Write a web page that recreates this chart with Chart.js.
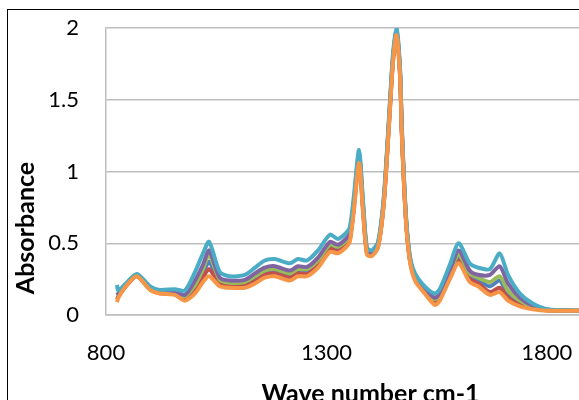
<!DOCTYPE html>
<html>
<head>
<meta charset="utf-8">
<script src="https://cdn.jsdelivr.net/npm/chart.js@4"></script>
<style>
html,body{margin:0;padding:0;background:#fff;overflow:hidden;width:579px;height:400px;}
#frame{position:absolute;left:7px;top:9px;width:900px;height:700px;border:1px solid #000;box-sizing:border-box;}
#wrap{position:absolute;left:0;top:0;width:660px;height:420px;}
</style>
</head>
<body>
<div id="frame"></div>
<div id="wrap"><canvas id="c" width="660" height="420"></canvas></div>
<script>
const waveNumbers = [825,828,845,870,900,922,956,979,1002,1020,1034,1058,1081,1115,1138,1160,1183,1217,1235,1256,1281,1308,1326,1344,1353,1362,1374,1383,1392,1403,1417,1430,1442,1451,1459,1467,1471,1480,1489,1501,1523,1546,1557,1580,1600,1625,1644,1671,1693,1712,1739,1768,1802,1863,1900];
const tealSeries   = [0.21,0.17,0.22,0.285,0.20,0.175,0.18,0.17,0.30,0.43,0.51,0.30,0.27,0.28,0.33,0.38,0.39,0.36,0.39,0.38,0.45,0.56,0.53,0.57,0.61,0.82,1.15,0.80,0.47,0.45,0.51,0.82,1.38,1.82,2.00,1.72,1.32,0.72,0.42,0.29,0.20,0.15,0.18,0.35,0.50,0.36,0.33,0.32,0.43,0.28,0.15,0.08,0.04,0.03,0.03];
const purpleSeries = [0.16,0.15,0.21,0.28,0.19,0.165,0.165,0.14,0.24,0.35,0.45,0.26,0.24,0.245,0.29,0.33,0.34,0.31,0.34,0.335,0.40,0.51,0.49,0.53,0.57,0.78,1.12,0.77,0.45,0.435,0.495,0.80,1.36,1.80,1.98,1.70,1.30,0.70,0.405,0.27,0.18,0.12,0.15,0.31,0.45,0.31,0.28,0.28,0.34,0.22,0.12,0.065,0.037,0.03,0.03];
const greenSeries  = [0.14,0.14,0.21,0.28,0.185,0.16,0.16,0.13,0.21,0.32,0.42,0.245,0.225,0.23,0.27,0.31,0.32,0.29,0.32,0.32,0.38,0.49,0.475,0.515,0.555,0.765,1.10,0.76,0.445,0.43,0.49,0.79,1.35,1.79,1.97,1.69,1.29,0.695,0.40,0.265,0.175,0.11,0.14,0.295,0.42,0.29,0.26,0.23,0.27,0.17,0.10,0.055,0.035,0.03,0.03];
const blueSeries   = [0.13,0.135,0.205,0.275,0.18,0.155,0.15,0.12,0.19,0.29,0.37,0.23,0.215,0.22,0.25,0.295,0.305,0.275,0.305,0.30,0.365,0.475,0.46,0.50,0.54,0.75,1.09,0.75,0.435,0.42,0.48,0.785,1.34,1.78,1.96,1.68,1.28,0.69,0.395,0.26,0.17,0.10,0.13,0.28,0.40,0.27,0.24,0.20,0.24,0.14,0.085,0.05,0.033,0.03,0.03];
const redSeries    = [0.11,0.13,0.20,0.27,0.178,0.152,0.145,0.11,0.17,0.26,0.32,0.215,0.20,0.205,0.235,0.28,0.29,0.26,0.29,0.285,0.35,0.46,0.445,0.485,0.525,0.735,1.075,0.735,0.43,0.415,0.475,0.775,1.33,1.77,1.955,1.67,1.27,0.68,0.39,0.25,0.16,0.085,0.115,0.265,0.38,0.25,0.22,0.16,0.19,0.12,0.07,0.045,0.032,0.03,0.03];
const orangeSeries = [0.09,0.12,0.20,0.27,0.175,0.15,0.14,0.10,0.15,0.23,0.27,0.20,0.19,0.19,0.22,0.26,0.27,0.24,0.27,0.27,0.33,0.44,0.43,0.47,0.51,0.72,1.06,0.72,0.42,0.41,0.47,0.77,1.32,1.76,1.95,1.66,1.26,0.67,0.38,0.24,0.15,0.07,0.10,0.25,0.36,0.23,0.20,0.14,0.16,0.10,0.06,0.04,0.03,0.03,0.03];
const xTicks = [800,1300,1800];
const yTicks = [0,0.5,1,1.5,2];

function pts(arr){ return arr.map((v,i)=>({x:waveNumbers[i], y:v})); }
function ds(label, arr, color){
  return {label, data:pts(arr), borderColor:color, backgroundColor:color, borderWidth:4, pointRadius:0, tension:0.25, fill:false};
}

const yTitle = {
  id:'yTitle',
  afterDraw(chart){
    const ctx = chart.ctx;
    ctx.save();
    ctx.translate(26, 228);
    ctx.rotate(-Math.PI/2);
    ctx.font = 'bold 25px Lato';
    ctx.fillStyle = '#000';
    ctx.textAlign = 'center';
    ctx.textBaseline = 'middle';
    ctx.fillText('Absorbance', 0, 0);
    ctx.restore();
  }
};

new Chart(document.getElementById('c'), {
  type:'line',
  data:{datasets:[
    ds('Series 6', orangeSeries, '#F79646'),
    ds('Series 5', tealSeries, '#4BACC6'),
    ds('Series 4', purpleSeries, '#8064A2'),
    ds('Series 3', greenSeries, '#9BBB59'),
    ds('Series 2', redSeries, '#C0504D'),
    ds('Series 1', blueSeries, '#4F81BD')
  ]},
  options:{
    responsive:false,
    animation:false,
    layout:{padding:{left:0, top:28, right:25, bottom:0}},
    plugins:{legend:{display:false}, tooltip:{enabled:false}},
    scales:{
      x:{
        type:'linear', min:800, max:2000,
        afterFit(s){ s.height = 105; s.paddingLeft = 10; s.paddingRight = 10; },
        afterBuildTicks(s){ s.ticks = xTicks.map(v=>({value:v})); },
        grid:{display:false, drawTicks:false},
        border:{display:true, color:'#BEBEBE', width:1.5},
        ticks:{font:{family:'Lato', size:22}, color:'#000', padding:25, maxRotation:0, autoSkip:false, callback:(v)=>String(v)},
        title:{display:true, text:'Wave number cm-1', font:{family:'Lato', size:25, weight:'bold'}, color:'#000', padding:{top:0, bottom:11}}
      },
      y:{
        min:0, max:2,
        afterFit(s){ s.width = 106; s.paddingTop = 12; s.paddingBottom = 12; },
        afterBuildTicks(s){ s.ticks = yTicks.map(v=>({value:v})); },
        grid:{color:'#BEBEBE', lineWidth:1.5, drawTicks:false},
        border:{display:true, color:'#BEBEBE', width:1.5},
        ticks:{font:{family:'Lato', size:22}, color:'#000', padding:27, callback:(v)=>String(v)}
      }
    }
  },
  plugins:[yTitle]
});
</script>
</body>
</html>
